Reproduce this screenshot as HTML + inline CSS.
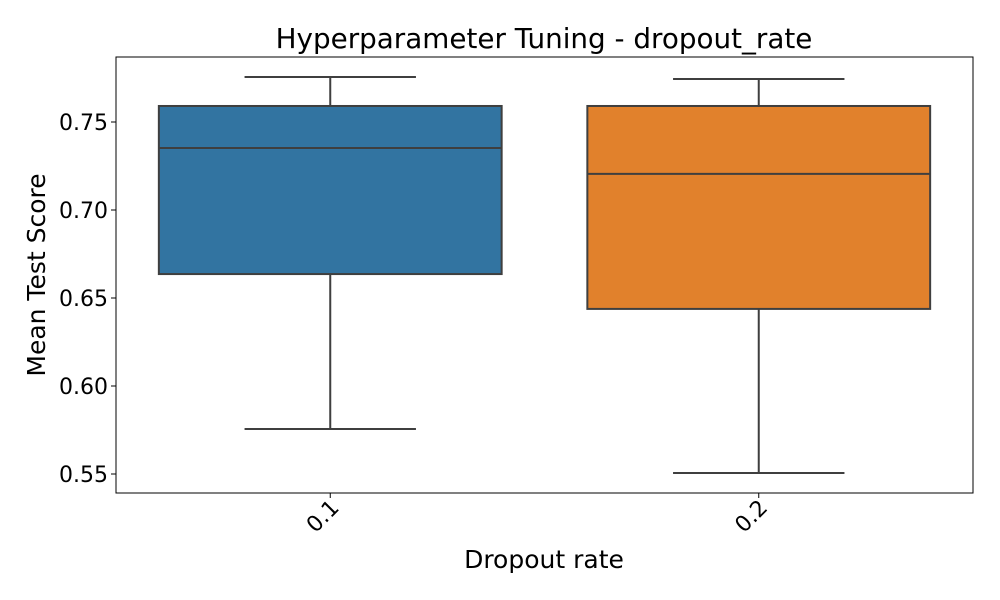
<!DOCTYPE html>
<html><head><meta charset="utf-8"><style>
body{margin:0;background:#fff;}
svg{display:block;font-family:"DejaVu Sans","Liberation Sans",sans-serif;}
</style></head><body>
<svg id="chart" width="1000" height="600">
<text x="544" y="48" text-anchor="middle" font-size="27.8">Hyperparameter Tuning - dropout_rate</text>
<text x="544" y="568" text-anchor="middle" font-size="25">Dropout rate</text>
<text transform="translate(45,275) rotate(-90)" text-anchor="middle" font-size="25">Mean Test Score</text>
<g id="marks"></g>
<rect x="116" y="57" width="857" height="436" fill="none" stroke="#000" stroke-width="1"/>
</svg>
<script>
const categories=["0.1","0.2"];
const whiskerHigh=[0.7756,0.7744];
const q3=[0.7591,0.7591];
const medians=[0.7352,0.7205];
const q1=[0.6636,0.6438];
const whiskerLow=[0.5756,0.5506];
const colors=["#3274a1","#e1812c"];
const yTicks=[0.55,0.60,0.65,0.70,0.75];
const yTickLabels=["0.55","0.60","0.65","0.70","0.75"];
const L=116,R=973,T=57,B=493;
const y=v=>122+(0.75-v)*1760;
const x=i=>L+(i+0.5)*(R-L)/categories.length;
const unit=(R-L)/categories.length;
const NS="http://www.w3.org/2000/svg";
const g=document.getElementById('marks');
function mk(t,a){const e=document.createElementNS(NS,t);for(const k in a)e.setAttribute(k,a[k]);g.appendChild(e);return e;}
yTicks.forEach((v,i)=>{
 const tk=mk('line',{x1:L-5,x2:L,y1:y(v),y2:y(v),stroke:'#000'});
 
 
 const t=mk('text',{x:L-8,y:y(v)+8,'text-anchor':'end','font-size':'22'});
 t.textContent=yTickLabels[i];
 
 
});
categories.forEach((c,i)=>{
 const cx=x(i),bw=unit*0.8,cw=unit*0.4,s='#3f3f3f';
 const w1=mk('line',{x1:cx,x2:cx,y1:y(whiskerHigh[i]),y2:y(q3[i]),stroke:s,'stroke-width':2});
 
 
 const w2=mk('line',{x1:cx,x2:cx,y1:y(q1[i]),y2:y(whiskerLow[i]),stroke:s,'stroke-width':2});
 
 
 const c1=mk('line',{x1:cx-cw/2,x2:cx+cw/2,y1:y(whiskerHigh[i]),y2:y(whiskerHigh[i]),stroke:s,'stroke-width':2});
 
 
 const c2=mk('line',{x1:cx-cw/2,x2:cx+cw/2,y1:y(whiskerLow[i]),y2:y(whiskerLow[i]),stroke:s,'stroke-width':2});
 
 
 const b=mk('rect',{x:cx-bw/2,y:y(q3[i]),width:bw,height:y(q1[i])-y(q3[i]),fill:colors[i],stroke:s,'stroke-width':2});
 
 
 const m=mk('line',{x1:cx-bw/2,x2:cx+bw/2,y1:y(medians[i]),y2:y(medians[i]),stroke:s,'stroke-width':2});
 
 
 const tk=mk('line',{x1:cx,x2:cx,y1:B,y2:B+5,stroke:'#000'});
 
 
 const t=mk('text',{x:cx+10,y:B+16,'text-anchor':'end','font-size':'22',transform:`rotate(-45 ${cx+10} ${B+16})`});
 t.textContent=c;
 
 
});
</script>
</body></html>
